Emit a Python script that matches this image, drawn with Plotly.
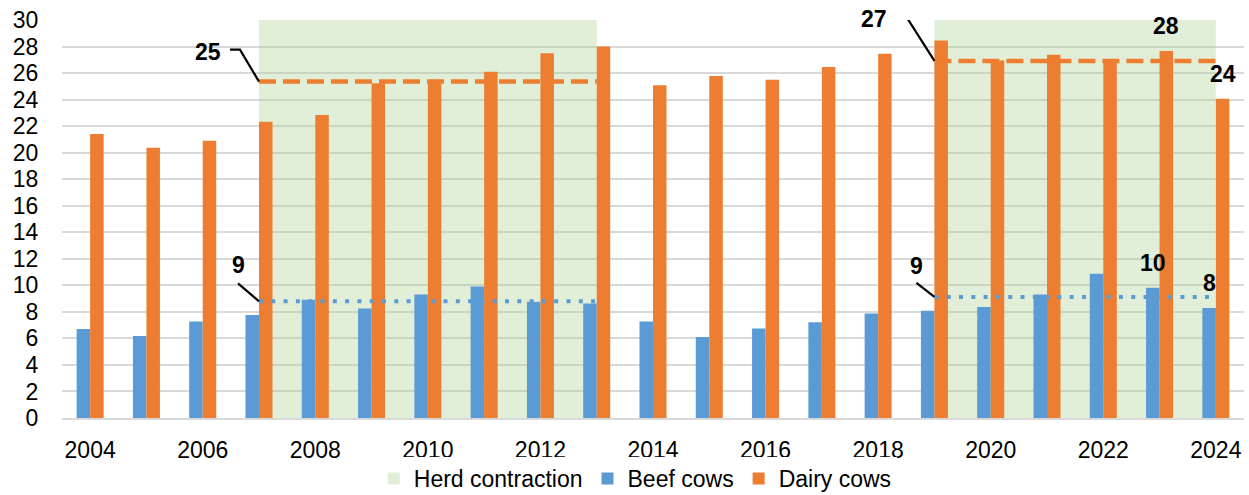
import plotly.graph_objects as go

# Annual values, 2004-2024
years = list(range(2004, 2025))
beef_cows = [6.71, 6.18, 7.28, 7.76, 8.91, 8.26, 9.31, 9.92, 8.76, 8.64,
             7.28, 6.10, 6.75, 7.21, 7.88, 8.09, 8.36, 9.31, 10.87, 9.82, 8.29]
dairy_cows = [21.40, 20.37, 20.90, 22.33, 22.83, 25.24, 25.49, 26.10, 27.50, 28.00,
              25.09, 25.77, 25.49, 26.45, 27.46, 28.46, 26.95, 27.38, 27.00, 27.66, 24.06]

# Herd contraction periods (start year, end year)
contraction_start = [2007, 2019]
contraction_end = [2013, 2024]

# Bars with a value label above them: (year, series)
labelled_points = [(2023, "dairy"), (2023, "beef"), (2024, "beef"), (2024, "dairy")]

Y_MAX = 30
BEEF = "#5B9BD5"
DAIRY = "#ED7D31"
SHADE = "rgba(169, 208, 142, 0.34)"
FONT = "Liberation Sans, Arial, sans-serif"
BAR_W = 0.24

fig = go.Figure()

# Shaded periods drawn as full-height bars spanning each period
fig.add_trace(go.Bar(
    x=[(s + e) / 2 for s, e in zip(contraction_start, contraction_end)],
    y=[Y_MAX] * len(contraction_start),
    width=[e - s for s, e in zip(contraction_start, contraction_end)],
    marker=dict(color=SHADE, line=dict(width=0)),
    name="Herd contraction",
    hoverinfo="skip",
))

fig.add_trace(go.Bar(
    x=years, y=beef_cows, name="Beef cows",
    marker=dict(color=BEEF, line=dict(width=0)),
    width=BAR_W, offset=-BAR_W,
))
fig.add_trace(go.Bar(
    x=years, y=dairy_cows, name="Dairy cows",
    marker=dict(color=DAIRY, line=dict(width=0)),
    width=BAR_W, offset=0,
))


def period_mean(values, start, end):
    vals = [v for yr, v in zip(years, values) if start <= yr <= end]
    return sum(vals) / len(vals)


# Period averages: dashed for dairy, dotted for beef
dairy_means = []
beef_means = []
for s, e in zip(contraction_start, contraction_end):
    dm = period_mean(dairy_cows, s, e)
    bm = period_mean(beef_cows, s, e)
    dairy_means.append(dm)
    beef_means.append(bm)
    fig.add_trace(go.Scatter(
        x=[s, e], y=[dm, dm], mode="lines", showlegend=False, hoverinfo="skip",
        line=dict(color=DAIRY, width=4.5, dash="17px,7px"),
    ))
    fig.add_trace(go.Scatter(
        x=[s, e], y=[bm, bm], mode="lines", showlegend=False, hoverinfo="skip",
        line=dict(color=BEEF, width=4, dash="4px,8.3px"),
    ))

# Leader lines (pixel paths anchored at the start of each average line)
# and the rounded average labels
leaders = [
    # (anchor x, anchor y, path, label dx, label dy)
    (contraction_start[0], dairy_means[0], "M0,0 L-19,32 L-29,32", -51, 30),
    (contraction_start[0], beef_means[0], "M0,0 L-21,18", -21, 36),
    (contraction_start[1], dairy_means[1], "M0,0 L-28,44 L-38,44", -60, 42),
    (contraction_start[1], beef_means[1], "M0,0 L-18,14", -18, 31),
]
for ax_x, ax_y, path, dx, dy in leaders:
    fig.add_shape(
        type="path", path=path, xref="x", yref="y",
        xsizemode="pixel", ysizemode="pixel", xanchor=ax_x, yanchor=ax_y,
        line=dict(color="black", width=2.2),
    )
    fig.add_annotation(
        x=ax_x, y=ax_y, xref="x", yref="y", text=f"<b>{round(ax_y)}</b>",
        showarrow=False, xshift=dx, yshift=dy,
        font=dict(family=FONT, size=23, color="black"),
    )

# Value labels above selected bars
for yr, series in labelled_points:
    i = years.index(yr)
    if series == "dairy":
        val, xc = dairy_cows[i], yr + BAR_W / 2
    else:
        val, xc = beef_cows[i], yr - BAR_W / 2
    fig.add_annotation(
        x=xc, y=val, xref="x", yref="y", text=f"<b>{round(val)}</b>",
        showarrow=False, yshift=25,
        font=dict(family=FONT, size=23, color="black"),
    )

fig.update_layout(
    width=1249, height=495,
    margin=dict(l=62, r=5, t=20, b=77, autoexpand=False),
    barmode="overlay",
    plot_bgcolor="white", paper_bgcolor="white",
    font=dict(family=FONT, size=23, color="black"),
    showlegend=True,
    legend=dict(
        orientation="h", x=0.485, xanchor="center", y=-0.098, yanchor="top",
        font=dict(family=FONT, size=23, color="black"),
        itemsizing="constant", traceorder="normal",
    ),
    xaxis=dict(
        range=[2003.5, 2024.5], tickmode="linear", tick0=2004, dtick=2,
        showgrid=False, zeroline=False,
        showline=True, linecolor="#D9D9D9", linewidth=2,
        ticks="outside", ticklen=10, tickcolor="rgba(0,0,0,0)",
        tickfont=dict(family=FONT, size=23, color="black"),
    ),
    yaxis=dict(
        range=[0, Y_MAX], tickmode="linear", tick0=0, dtick=2,
        showgrid=True, gridcolor="#D9D9D9", gridwidth=1.5,
        zeroline=False, showline=False,
        ticks="outside", ticklen=18, tickcolor="rgba(0,0,0,0)",
        tickfont=dict(family=FONT, size=23, color="black"),
    ),
)

fig.write_html("out.html")
